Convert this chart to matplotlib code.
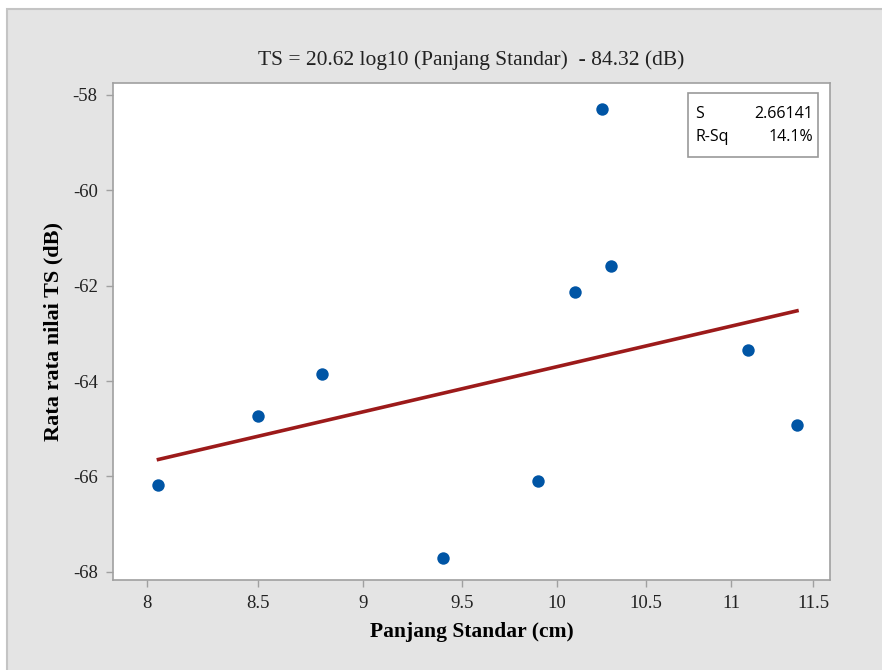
import matplotlib
matplotlib.use('Agg')
import matplotlib.pyplot as plt
from matplotlib.patches import Rectangle
from matplotlib.ticker import NullLocator
import numpy as np

plt.rcParams['axes.unicode_minus'] = False

# data
panjang = [8.05, 8.5, 8.8, 9.4, 9.9, 10.1, 10.25, 10.3, 11.1, 11.4]
ts_rata = [-66.17, -64.73, -63.85, -67.70, -66.09, -62.13, -58.29, -61.58, -63.34, -64.92]
slope = 20.62
intercept = -84.32
stat_names = ['S', 'R-Sq']
stat_values = ['2.66141', '14.1%']
xticks = [8, 8.5, 9, 9.5, 10, 10.5, 11, 11.5]
xtick_labels = ['8', '8.5', '9', '9.5', '10', '10.5', '11', '11.5']
yticks = [-58, -60, -62, -64, -66, -68]

serif = 'Liberation Serif'
sans = 'Open Sans'

fig = plt.figure(figsize=(8.82, 6.70), dpi=100, facecolor='white')
# gray outer panel
fig.patches.append(Rectangle((7 / 882, -0.01), 1.0, 1 - 9 / 670 + 0.01,
                             transform=fig.transFigure, facecolor='#e4e4e4',
                             edgecolor='#c4c4c4', linewidth=1.5, zorder=-10))

ax = fig.add_axes([113 / 882, 1 - 580 / 670, (830 - 113) / 882, (580 - 83) / 670])
ax.set_facecolor('white')

# fitted line
xs = np.linspace(min(panjang), max(panjang), 30)
ax.plot(xs, slope * np.log10(xs) + intercept, color='#9c1a1a', linewidth=2.6, zorder=2)
ax.scatter(panjang, ts_rata, s=80, color='#0055a5', zorder=3, linewidths=0)

ax.set_xscale('log')
ax.set_xlim(7.853, 11.607)
ax.set_ylim(-68.17, -57.75)
ax.xaxis.set_minor_locator(NullLocator())
ax.set_xticks(xticks)
ax.set_xticklabels(xtick_labels)
ax.set_yticks(yticks)

for s in ax.spines.values():
    s.set_color('#a0a0a0')
    s.set_linewidth(1.2)
ax.tick_params(axis='both', direction='out', length=5, color='#a0a0a0', width=1,
               labelsize=13.5, pad=6)
for lab in ax.get_xticklabels() + ax.get_yticklabels():
    lab.set_fontfamily(serif)
    lab.set_color('#222222')

ax.set_title('TS = 20.62 log10 (Panjang Standar)  - 84.32 (dB)', fontfamily=serif,
             fontsize=15.5, color='#222222', pad=13)
ax.set_xlabel('Panjang Standar (cm)', fontfamily=serif, fontsize=15.5,
              fontweight='bold', labelpad=7)
ax.set_ylabel('Rata rata nilai TS (dB)', fontfamily=serif, fontsize=16,
              fontweight='bold', labelpad=7)

# stats box
ax.add_patch(Rectangle((0.802, 0.851), 0.181, 0.129, transform=ax.transAxes,
                       facecolor='white', edgecolor='#999999', linewidth=1.2, zorder=4))
for i, (n, v) in enumerate(zip(stat_names, stat_values)):
    yy = 0.937 - i * 0.045
    ax.text(0.812, yy, n, transform=ax.transAxes, fontfamily=sans, fontsize=11.5,
            fontweight='medium', va='center', ha='left', zorder=5)
    ax.text(0.977, yy, v, transform=ax.transAxes, fontfamily=sans, fontsize=11.5,
            fontweight='medium', va='center', ha='right', zorder=5)

fig.savefig('out.png', dpi=100, facecolor=fig.get_facecolor())
